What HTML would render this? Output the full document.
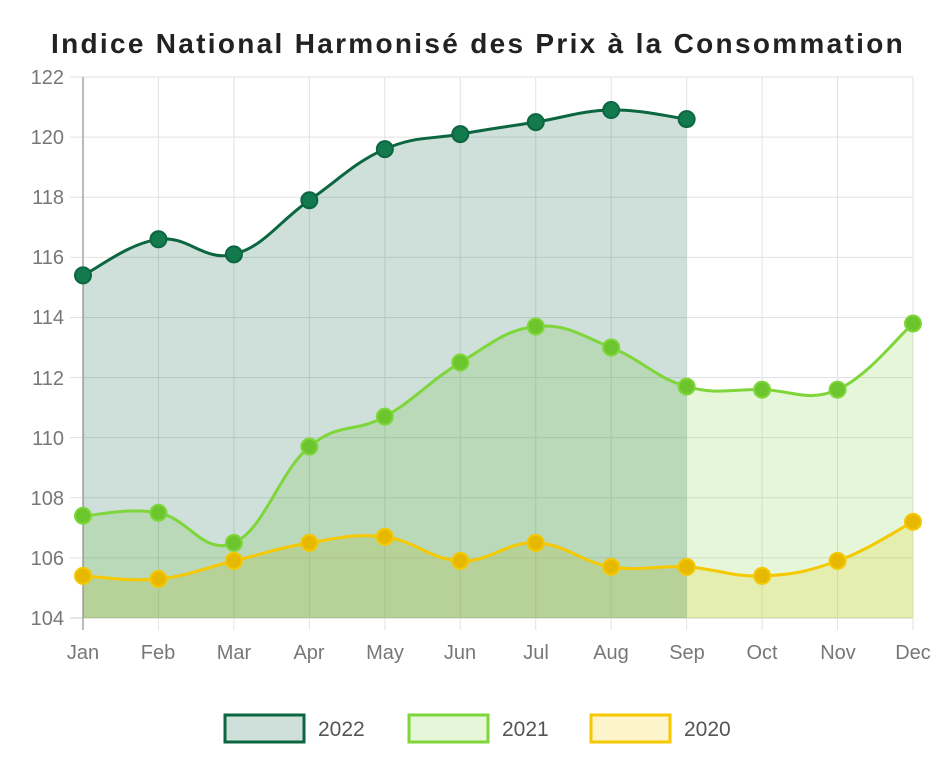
<!DOCTYPE html>
<html><head><meta charset="utf-8"><style>
body{margin:0;background:#fff;}
svg{display:block;font-family:"Liberation Sans",sans-serif;}
</style></head><body>
<svg id="s" width="940" height="781" viewBox="0 0 940 781">
<text x="478" y="53" text-anchor="middle" font-size="28" font-weight="bold" fill="#222" letter-spacing="2.3">Indice National Harmonisé des Prix à la Consommation</text>
<g id="grid"></g>
<g id="series"></g>
<g font-size="20" fill="#777" text-anchor="end">
<text x="64" y="84">122</text><text x="64" y="144">120</text><text x="64" y="204">118</text><text x="64" y="264">116</text><text x="64" y="324">114</text><text x="64" y="385">112</text><text x="64" y="445">110</text><text x="64" y="505">108</text><text x="64" y="565">106</text><text x="64" y="625">104</text>
</g>
<g font-size="20" fill="#777" text-anchor="middle">
<text x="83" y="659">Jan</text><text x="158" y="659">Feb</text><text x="234" y="659">Mar</text><text x="309" y="659">Apr</text><text x="385" y="659">May</text><text x="460" y="659">Jun</text><text x="536" y="659">Jul</text><text x="611" y="659">Aug</text><text x="687" y="659">Sep</text><text x="762" y="659">Oct</text><text x="838" y="659">Nov</text><text x="913" y="659">Dec</text>
</g>
<rect x="225" y="715" width="79" height="27" fill="rgba(10,102,64,0.2)" stroke="#0b6641" stroke-width="3"/>
<text x="318" y="736" font-size="21" fill="#555">2022</text>
<rect x="409" y="715" width="79" height="27" fill="rgba(126,214,58,0.2)" stroke="#7ed63a" stroke-width="3"/>
<text x="502" y="736" font-size="21" fill="#555">2021</text>
<rect x="591" y="715" width="79" height="27" fill="rgba(245,200,0,0.2)" stroke="#f5c800" stroke-width="3"/>
<text x="684" y="736" font-size="21" fill="#555">2020</text>
</svg>
<script>
var X=function(i){return 83+i*830/11;},Y=function(v){return 618-(v-104)*541/18;};
var ns="http://www.w3.org/2000/svg";
function el(p,t,a){var e=document.createElementNS(ns,t);for(var k in a)e.setAttribute(k,a[k]);p.appendChild(e);return e;}
var g=document.getElementById('grid');
for(var v=104;v<=122;v+=2)el(g,'line',{x1:70,x2:913,y1:Y(v),y2:Y(v),stroke:v==104?'#ccc':'#e2e2e2','stroke-width':1});
for(var i=0;i<12;i++)el(g,'line',{x1:X(i),x2:X(i),y1:77,y2:630,stroke:i==0?'#bbb':'#e2e2e2','stroke-width':i==0?2:1});
var S=[
{d:[105.4,105.3,105.9,106.5,106.7,105.9,106.5,105.7,105.7,105.4,105.9,107.2],c:'#f5c800',p:'#e6b800',f:'rgba(245,200,0,0.2)'},
{d:[107.4,107.5,106.5,109.7,110.7,112.5,113.7,113.0,111.7,111.6,111.6,113.8],c:'#7ed63a',p:'#6cc52d',f:'rgba(126,214,58,0.2)'},
{d:[115.4,116.6,116.1,117.9,119.6,120.1,120.5,120.9,120.6],c:'#0b6641',p:'#137a4e',f:'rgba(10,102,64,0.2)'}];
var sg=document.getElementById('series');
function path(d){var pts=d.map(function(v,i){return [X(i),Y(v)];});var s='M'+pts[0];var t=0.2;
for(var i=0;i<pts.length-1;i++){var p0=pts[Math.max(0,i-1)],p1=pts[i],p2=pts[i+1],p3=pts[Math.min(pts.length-1,i+2)];
var c1=[p1[0]+(p2[0]-p0[0])*t,p1[1]+(p2[1]-p0[1])*t],c2=[p2[0]-(p3[0]-p1[0])*t,p2[1]-(p3[1]-p1[1])*t];
s+=' C'+c1+' '+c2+' '+p2;}return s;}
S.forEach(function(o){var p=path(o.d);var n=o.d.length-1;
el(sg,'path',{d:p+' L'+X(n)+','+Y(104)+' L'+X(0)+','+Y(104)+'Z',fill:o.f});});
S.slice().reverse().forEach(function(o){var p=path(o.d);
el(sg,'path',{d:p,fill:'none',stroke:o.c,'stroke-width':3});
o.d.forEach(function(v,i){el(sg,'circle',{cx:X(i),cy:Y(v),r:8,fill:o.p,stroke:o.c,'stroke-width':2});});});
</script>
</body></html>
